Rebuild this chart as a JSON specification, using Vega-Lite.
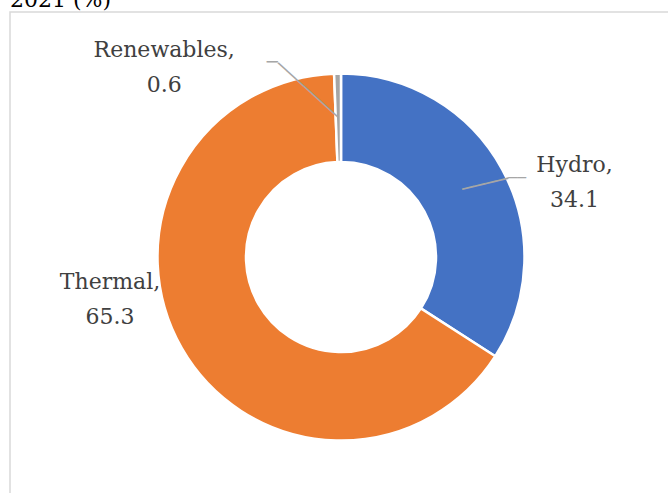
{
  "$schema": "https://vega.github.io/schema/vega-lite/v6.json",
  "width": 662,
  "height": 490,
  "autosize": "none",
  "padding": {"left": 10, "top": 12, "right": 0, "bottom": 0},
  "background": "white",
  "view": {"stroke": "#D9D9D9", "strokeWidth": 1.5},
  "title": {
    "text": "2021 (%)",
    "anchor": "start",
    "frame": "group",
    "orient": "top",
    "offset": 0,
    "dy": 22,
    "baseline": "bottom",
    "font": "DejaVu Serif",
    "fontSize": 22,
    "fontWeight": "normal",
    "color": "#000000"
  },
  "data": {
    "values": [
      {"category": "Hydro", "value": 34.1, "rank": 1, "label": "Hydro,\n34.1"},
      {"category": "Thermal", "value": 65.3, "rank": 2, "label": "Thermal,\n65.3"},
      {"category": "Renewables", "value": 0.6, "rank": 3, "label": "Renewables,\n0.6"}
    ]
  },
  "encoding": {
    "theta": {"field": "value", "type": "quantitative", "stack": true},
    "order": {"field": "rank", "type": "quantitative"}
  },
  "layer": [
    {
      "mark": {"type": "arc", "outerRadius": 183.5, "innerRadius": 95, "stroke": "white", "strokeWidth": 2.5},
      "encoding": {
        "color": {
          "field": "category",
          "type": "nominal",
          "scale": {"domain": ["Hydro", "Thermal", "Renewables"], "range": ["#4472C4", "#ED7D31", "#A5A5A5"]},
          "legend": null
        }
      }
    },
    {
      "mark": {"type": "text", "radius": 0, "angle": -13.45, "dx": 157.2, "dy": -37.0, "font": "DejaVu Sans Mono", "fontSize": 19.6, "color": "#A6A6A6", "align": "center", "baseline": "middle"},
      "encoding": {
        "text": {"condition": {"test": "datum.category === 'Hydro'", "value": "────"}, "value": ""}
      }
    },
    {
      "mark": {"type": "text", "radius": 0, "dx": 176.2, "dy": -78, "font": "DejaVu Sans Mono", "fontSize": 14.7, "color": "#A6A6A6", "align": "center", "baseline": "middle"},
      "encoding": {
        "text": {"condition": {"test": "datum.category === 'Hydro'", "value": "──"}, "value": ""}
      }
    },
    {
      "mark": {"type": "text", "radius": 0, "dx": -68.8, "dy": -193.7, "font": "DejaVu Sans Mono", "fontSize": 18.3, "color": "#A6A6A6", "align": "center", "baseline": "middle"},
      "encoding": {
        "text": {"condition": {"test": "datum.category === 'Renewables'", "value": "─"}, "value": ""}
      }
    },
    {
      "mark": {"type": "text", "radius": 0, "angle": 42.2, "dx": -136.5, "dy": -101.0, "font": "DejaVu Sans Mono", "fontSize": 19.2, "color": "#A6A6A6", "align": "center", "baseline": "middle"},
      "encoding": {
        "text": {"condition": {"test": "datum.category === 'Renewables'", "value": "───────"}, "value": ""}
      }
    },
    {
      "mark": {"type": "text", "radius": 0, "dx": 233.5, "dy": -91.7, "font": "DejaVu Serif", "fontSize": 22, "color": "#404040", "lineBreak": "\n", "lineHeight": 35, "align": "center", "baseline": "middle"},
      "encoding": {
        "text": {"condition": {"test": "datum.category === 'Hydro'", "field": "label"}, "value": ""}
      }
    },
    {
      "mark": {"type": "text", "radius": 0, "dx": -231, "dy": 25, "font": "DejaVu Serif", "fontSize": 22, "color": "#404040", "lineBreak": "\n", "lineHeight": 35, "align": "center", "baseline": "middle"},
      "encoding": {
        "text": {"condition": {"test": "datum.category === 'Thermal'", "field": "label"}, "value": ""}
      }
    },
    {
      "mark": {"type": "text", "radius": 0, "dx": -176.8, "dy": -207, "font": "DejaVu Serif", "fontSize": 22, "color": "#404040", "lineBreak": "\n", "lineHeight": 35, "align": "center", "baseline": "middle"},
      "encoding": {
        "text": {"condition": {"test": "datum.category === 'Renewables'", "field": "label"}, "value": ""}
      }
    }
  ]
}
